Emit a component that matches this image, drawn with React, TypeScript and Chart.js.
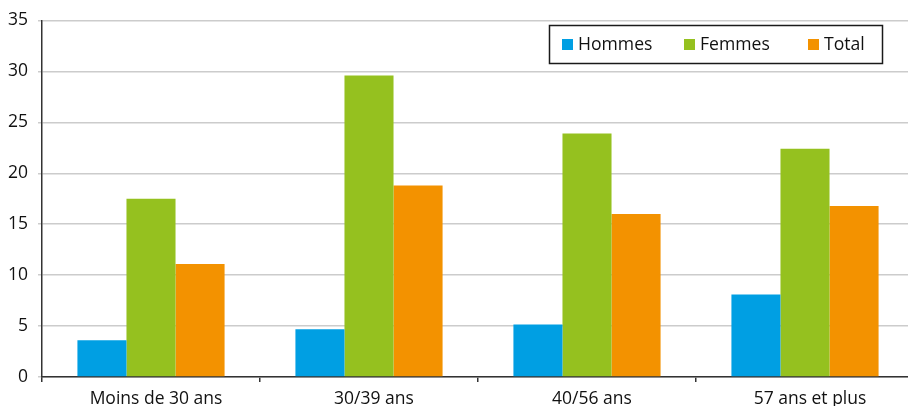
import React, { useEffect, useRef } from "react";
import { Chart, registerables } from "chart.js";

Chart.register(...registerables);

const categories = ["Moins de 30 ans", "30/39 ans", "40/56 ans", "57 ans et plus"];
const hommes = [3.6, 4.7, 5.15, 8.1];
const femmes = [17.5, 29.6, 23.9, 22.4];
const total = [11.1, 18.8, 16.0, 16.8];
const seriesLabels = ["Hommes", "Femmes", "Total"];
const colors = ["#009FE3", "#95C11F", "#F39200"];

const FONT = "'Open Sans', sans-serif";
const TEXT = "#111111";

const boxLegend = {
  id: "boxLegend",
  afterDraw(chart: any) {
    const ctx = chart.ctx;
    ctx.save();
    const bx = 549.5, by = 25.5, bw = 333, bh = 38;
    ctx.fillStyle = "#fff";
    ctx.fillRect(bx, by, bw, bh);
    ctx.strokeStyle = "#1a1a1a";
    ctx.lineWidth = 1.5;
    ctx.strokeRect(bx, by, bw, bh);
    const itemX = [562, 684, 808];
    ctx.font = `17.6px ${FONT}`;
    ctx.textBaseline = "middle";
    ctx.textAlign = "left";
    chart.data.datasets.forEach((ds: any, i: number) => {
      ctx.fillStyle = ds.backgroundColor;
      ctx.fillRect(itemX[i], 39, 11, 11);
      ctx.fillStyle = TEXT;
      ctx.fillText(ds.label, itemX[i] + 16, 44.5);
    });
    ctx.restore();
  },
};

export default function App() {
  const ref = useRef<HTMLCanvasElement>(null);
  useEffect(() => {
    if (!ref.current) return;
    const chart = new Chart(ref.current, {
      type: "bar",
      data: {
        labels: categories,
        datasets: [hommes, femmes, total].map((d, i) => ({
          label: seriesLabels[i],
          data: d,
          backgroundColor: colors[i],
          borderWidth: 0,
          categoryPercentage: 0.675,
          barPercentage: 1,
        })),
      },
      options: {
        animation: false,
        responsive: false,
        maintainAspectRatio: false,
        layout: { padding: { top: 19, right: 0, left: 0, bottom: 0 } },
        plugins: { legend: { display: false }, tooltip: { enabled: false } },
        scales: {
          x: {
            offset: true,
            grid: {
              display: true,
              drawOnChartArea: false,
              drawTicks: true,
              tickLength: 5,
              color: "#333",
              lineWidth: 1.5,
              offset: true,
            },
            border: { color: "#333", width: 1.5 },
            ticks: { color: TEXT, font: { family: FONT, size: 17.5 }, padding: 7, maxRotation: 0, labelOffset: 5 },
            afterFit: (s: any) => { s.height = 29; },
          },
          y: {
            min: 0,
            max: 35,
            ticks: { stepSize: 5, color: TEXT, font: { family: FONT, size: 17.5 }, padding: 10 },
            grid: { color: "#cccccc", lineWidth: 1.5, tickLength: 4 },
            border: { color: "#333", width: 1.5 },
            afterFit: (s: any) => { s.width = 42; },
          },
        },
      },
      plugins: [boxLegend],
    });
    return () => chart.destroy();
  }, []);
  return (
    <div style={{ position: "absolute", left: 0, top: 0, width: 908, height: 406, overflow: "hidden", background: "#fff" }}>
      <canvas ref={ref} width={914} height={406} style={{ display: "block" }} />
    </div>
  );
}
